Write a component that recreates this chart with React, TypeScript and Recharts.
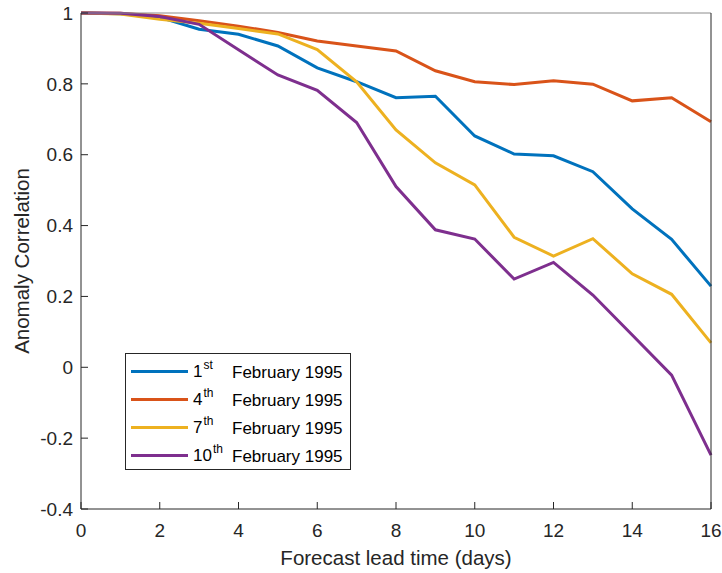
import { LineChart, Line, XAxis, YAxis, Legend, Label } from 'recharts';

const days = [0, 1, 2, 3, 4, 5, 6, 7, 8, 9, 10, 11, 12, 13, 14, 15, 16];
const feb1 = [1, 0.998, 0.988, 0.954, 0.94, 0.907, 0.845, 0.806, 0.761, 0.765, 0.653, 0.602, 0.597, 0.552, 0.447, 0.361, 0.229];
const feb4 = [1, 0.999, 0.992, 0.978, 0.963, 0.945, 0.921, 0.907, 0.893, 0.837, 0.806, 0.798, 0.809, 0.799, 0.752, 0.761, 0.693];
const feb7 = [1, 0.997, 0.982, 0.971, 0.956, 0.941, 0.897, 0.806, 0.67, 0.577, 0.515, 0.367, 0.314, 0.363, 0.264, 0.206, 0.069];
const feb10 = [1, 0.999, 0.99, 0.968, 0.896, 0.825, 0.782, 0.691, 0.51, 0.388, 0.362, 0.249, 0.296, 0.204, 0.091, -0.022, -0.248];

const xTicks = [0, 2, 4, 6, 8, 10, 12, 14, 16];
const yTicks = [-0.4, -0.2, 0, 0.2, 0.4, 0.6, 0.8, 1];

const SERIES = [
  { key: 'feb1', day: '1', suffix: 'st', color: '#0072BD' },
  { key: 'feb4', day: '4', suffix: 'th', color: '#D95319' },
  { key: 'feb7', day: '7', suffix: 'th', color: '#EDB120' },
  { key: 'feb10', day: '10', suffix: 'th', color: '#7E2F8E' },
];

const data = days.map((d, i) => ({
  day: d,
  feb1: feb1[i],
  feb4: feb4[i],
  feb7: feb7[i],
  feb10: feb10[i],
}));

const FONT = '"Liberation Sans", Arial, Helvetica, sans-serif';
const AXIS = '#262626';
const tickStyle = { fontSize: 19, fill: AXIS, fontFamily: FONT };

const fmt = (v: number) => String(Number(v.toFixed(1)));

function renderLegend() {
  return (
    <div
      style={{
        width: 224,
        height: 115,
        border: '1px solid #262626',
        background: '#fff',
        fontFamily: FONT,
        fontSize: 17,
        color: '#000',
        position: 'relative',
      }}
    >
      {SERIES.map((s, i) => (
        <div key={s.key} style={{ position: 'absolute', left: 0, top: 6 + i * 28, height: 24, width: 224 }}>
          <div style={{ position: 'absolute', left: 5, top: 10, width: 57, height: 3, background: s.color }} />
          <span style={{ position: 'absolute', left: 67, top: 2, lineHeight: '20px' }}>
            {s.day}
            <span style={{ fontSize: 12, position: 'relative', top: -8, marginLeft: 1 }}>{s.suffix}</span>
          </span>
          <span style={{ position: 'absolute', left: 106, top: 3, lineHeight: '20px' }}>February 1995</span>
        </div>
      ))}
    </div>
  );
}

export default function App() {
  return (
    <div style={{ position: 'absolute', left: 0, top: 0, background: '#fff' }}>
      <LineChart width={722} height={573} data={data} margin={{ top: 12, right: 10, bottom: 8, left: 11 }}>
        <XAxis
          dataKey="day"
          type="number"
          domain={[0, 16]}
          ticks={xTicks}
          height={56}
          tickSize={-7}
          tickMargin={22}
          tick={tickStyle}
          stroke={AXIS}
          axisLine={{ stroke: AXIS }}
          tickLine={{ stroke: AXIS }}
          interval={0}
        >
          <Label
            content={(p: any) => {
              const vb = p.viewBox;
              return (
                <text
                  x={vb.x + vb.width / 2}
                  y={vb.y + 56}
                  textAnchor="middle"
                  fontSize={20.5}
                  fontFamily={FONT}
                  fill={AXIS}
                >
                  Forecast lead time (days)
                </text>
              );
            }}
          />
        </XAxis>
        <XAxis
          xAxisId="top"
          orientation="top"
          type="number"
          domain={[0, 16]}
          ticks={xTicks}
          height={1}
          tickSize={-7}
          tick={false}
          axisLine={{ stroke: '#8c8c8c' }}
          tickLine={{ stroke: AXIS }}
          interval={0}
        />
        <YAxis
          type="number"
          domain={[-0.4, 1]}
          ticks={yTicks}
          width={70}
          tickSize={-7}
          tickMargin={15}
          tick={tickStyle}
          tickFormatter={fmt}
          axisLine={{ stroke: AXIS }}
          tickLine={{ stroke: AXIS }}
          interval={0}
        >
          <Label
            content={(p: any) => {
              const vb = p.viewBox;
              const x = vb.x + 18;
              const y = vb.y + vb.height / 2;
              return (
                <text
                  x={x}
                  y={y}
                  transform={`rotate(-90 ${x} ${y})`}
                  textAnchor="middle"
                  fontSize={20.5}
                  fontFamily={FONT}
                  fill={AXIS}
                >
                  Anomaly Correlation
                </text>
              );
            }}
          />
        </YAxis>
        <YAxis
          yAxisId="right"
          orientation="right"
          type="number"
          domain={[-0.4, 1]}
          ticks={yTicks}
          width={1}
          tickSize={-7}
          tick={false}
          axisLine={{ stroke: AXIS }}
          tickLine={{ stroke: AXIS }}
          interval={0}
        />
        <Legend
          layout="vertical"
          align="center"
          verticalAlign="middle"
          content={renderLegend}
          wrapperStyle={{ position: 'absolute', left: 125, top: 353, width: 226, height: 117 }}
        />
        {SERIES.map((s) => (
          <Line
            key={s.key}
            type="linear"
            dataKey={s.key}
            stroke={s.color}
            strokeWidth={3}
            dot={false}
            activeDot={false}
            isAnimationActive={false}
          />
        ))}
      </LineChart>
    </div>
  );
}
